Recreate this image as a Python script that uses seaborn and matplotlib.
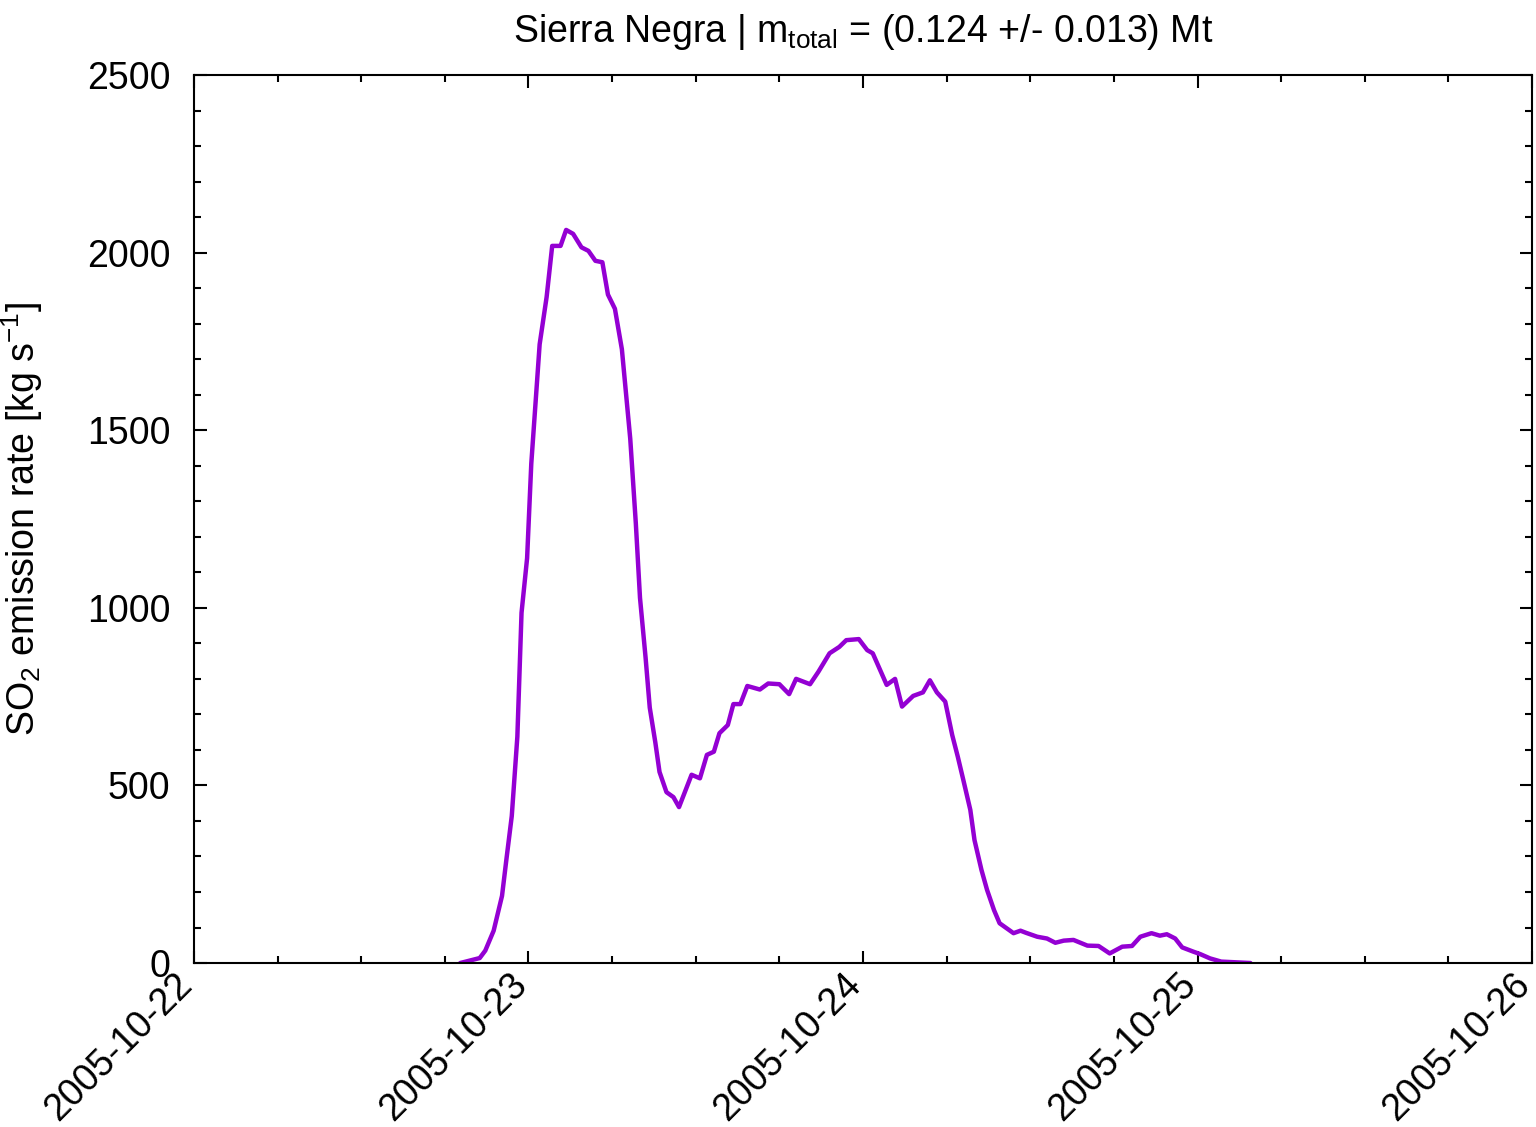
import pandas as pd
import seaborn as sns
import matplotlib.pyplot as plt
import matplotlib.dates as mdates

# hours since 2005-10-22 00:00 and SO2 emission rate [kg/s]
hours = [19.1, 20.5, 20.9, 21.5, 22.1, 22.4, 22.8, 23.2, 23.5, 23.9,
         24.2, 24.6, 24.8, 25.3, 25.7, 26.3, 26.7, 27.2, 27.8, 28.3,
         28.8, 29.3, 29.7, 30.2, 30.7, 30.9, 31.3, 31.7, 32.0, 32.4,
         32.7, 33.1, 33.4, 33.9, 34.4, 34.8, 35.7, 36.3, 36.8, 37.3,
         37.7, 38.3, 38.7, 39.2, 39.7, 40.6, 41.2, 42.0, 42.7, 43.2,
         44.2, 44.8, 45.6, 46.3, 46.8, 47.7, 48.3, 48.7, 49.7, 50.3,
         50.8, 51.6, 52.3, 52.8, 53.3, 53.9, 54.4, 54.8, 55.2, 55.7,
         56.0, 56.5, 56.9, 57.4, 57.8, 58.8, 59.3, 59.7, 60.5, 61.2,
         61.8, 62.4, 63.1, 64.1, 64.9, 65.7, 66.6, 67.3, 67.9, 68.7,
         69.3, 69.8, 70.4, 70.9, 71.7, 72.2, 72.9, 73.7, 75.8]
so2_rate = [0, 14, 35, 91, 189, 287, 414, 637, 986, 1140,
            1406, 1630, 1742, 1875, 2019, 2019, 2064, 2053, 2015, 2005,
            1977, 1973, 1882, 1842, 1728, 1644, 1476, 1238, 1028, 860,
            719, 621, 538, 481, 467, 439, 530, 520, 586, 595,
            647, 670, 729, 729, 780, 770, 787, 785, 757, 800,
            785, 820, 872, 890, 909, 912, 881, 872, 783, 800,
            722, 752, 762, 796, 762, 736, 642, 581, 515, 431,
            346, 262, 206, 149, 112, 84, 91, 85, 74, 69,
            57, 63, 65, 49, 48, 27, 46, 48, 74, 84,
            77, 81, 69, 44, 32, 25, 13, 4, 0]

t0 = pd.Timestamp('2005-10-22')
df = pd.DataFrame({'time': t0 + pd.to_timedelta(hours, unit='h'), 'rate': so2_rate})

sns.set_style('ticks')
plt.rcParams['font.family'] = ['Liberation Sans', 'DejaVu Sans']
plt.rcParams['mathtext.fontset'] = 'custom'
plt.rcParams['mathtext.rm'] = 'Liberation Sans'
plt.rcParams['mathtext.default'] = 'regular'
plt.rcParams['text.color'] = 'black'
plt.rcParams['axes.labelcolor'] = 'black'

fig = plt.figure(figsize=(15.36, 11.27), dpi=100)
ax = fig.add_axes([0.1263, 0.1455, 0.8711, 0.7879])

sns.lineplot(data=df, x='time', y='rate', ax=ax, color='#9400d3', linewidth=3.2)

ax.set_xlim(pd.Timestamp('2005-10-22'), pd.Timestamp('2005-10-26'))
ax.set_ylim(0, 2500)
ax.set_yticks(range(0, 2501, 500))
ax.set_yticks(range(0, 2501, 100), minor=True)
ax.xaxis.set_major_locator(mdates.DayLocator())
ax.xaxis.set_minor_locator(mdates.HourLocator(byhour=[0, 6, 12, 18]))
ax.xaxis.set_major_formatter(mdates.DateFormatter('%Y-%m-%d'))

# gnuplot look: inward ticks on all four sides
ax.tick_params(which='both', direction='in', top=True, right=True, width=1.5, labelsize=27, colors='black')
ax.tick_params(which='major', length=9)
ax.tick_params(which='minor', length=5)
ax.tick_params(axis='y', pad=17)
ax.tick_params(axis='x', pad=17)
for lbl in ax.get_xticklabels():
    lbl.set_rotation(45)
    lbl.set_ha('right')
    lbl.set_va('baseline')
    lbl.set_rotation_mode('anchor')
for s in ax.spines.values():
    s.set_linewidth(1.5)
    s.set_color('black')

ax.set_xlabel('')
ax.set_ylabel('SO$_2$ emission rate [kg s$^{-1}$]', fontsize=27, labelpad=30)
ax.set_title('Sierra Negra | m$_{total}$ = (0.124 +/- 0.013) Mt', fontsize=27, pad=24)

fig.savefig('out.png', dpi=100)
